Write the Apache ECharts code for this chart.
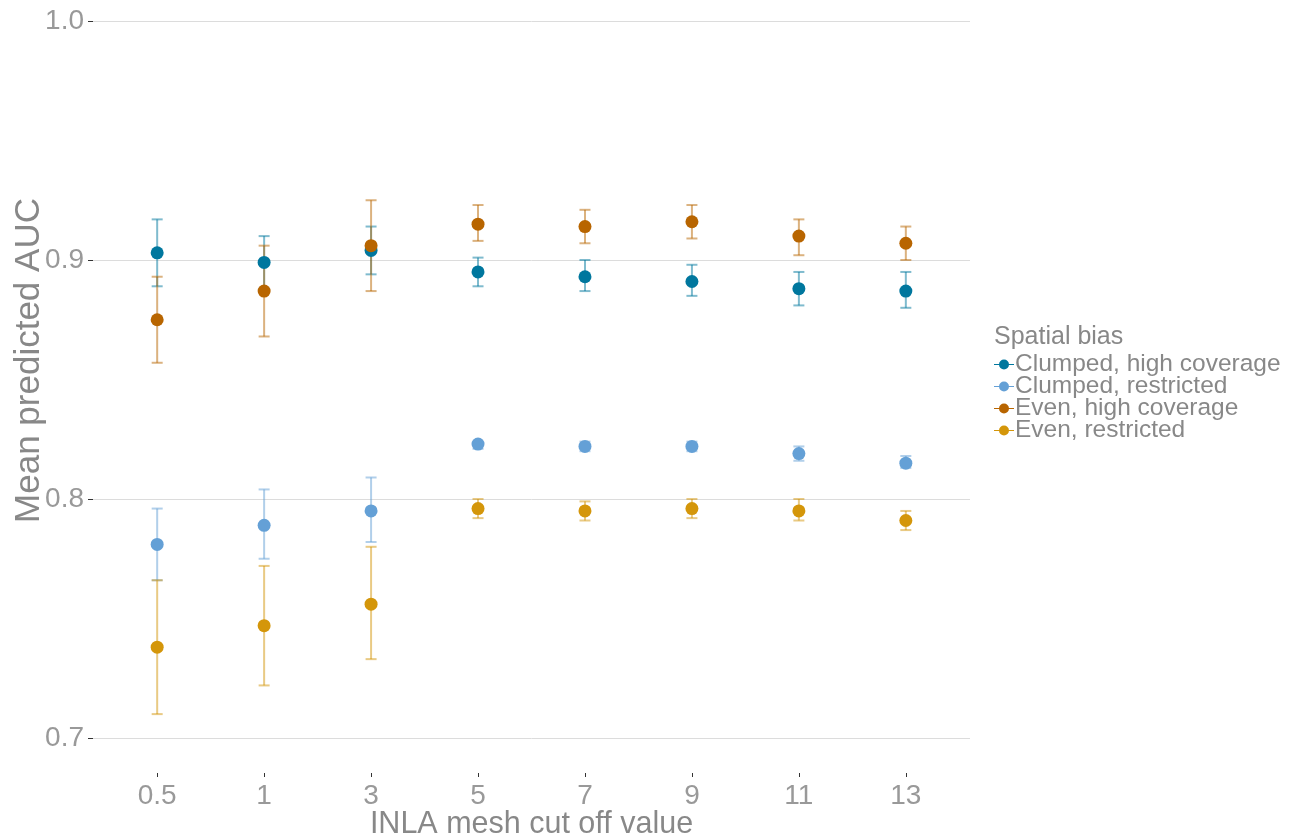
<!DOCTYPE html>
<html>
<head>
<meta charset="utf-8">
<script src="https://cdn.jsdelivr.net/npm/echarts@6/dist/echarts.min.js"></script>
<style>html,body{margin:0;padding:0;background:#fff;}#chart{width:1297px;height:837px;}</style>
</head>
<body>
<div id="chart"></div>
<script>
const categories = ['0.5', '1', '3', '5', '7', '9', '11', '13'];
const yTicks = [0.7, 0.8, 0.9, 1.0];
const seriesNames = ['Clumped, high coverage', 'Clumped, restricted', 'Even, high coverage', 'Even, restricted'];
const seriesColors = ['#00779E', '#64A0D6', '#B86500', '#D4960A'];

const clumpedHighMean = [0.903, 0.899, 0.904, 0.895, 0.893, 0.891, 0.888, 0.887];
const clumpedHighLow  = [0.889, 0.888, 0.894, 0.889, 0.887, 0.885, 0.881, 0.880];
const clumpedHighHigh = [0.917, 0.910, 0.914, 0.901, 0.900, 0.898, 0.895, 0.895];

const clumpedRestMean = [0.781, 0.789, 0.795, 0.823, 0.822, 0.822, 0.819, 0.815];
const clumpedRestLow  = [0.766, 0.775, 0.782, 0.821, 0.820, 0.820, 0.816, 0.813];
const clumpedRestHigh = [0.796, 0.804, 0.809, 0.824, 0.824, 0.824, 0.822, 0.818];

const evenHighMean = [0.875, 0.887, 0.906, 0.915, 0.914, 0.916, 0.910, 0.907];
const evenHighLow  = [0.857, 0.868, 0.887, 0.908, 0.907, 0.909, 0.902, 0.900];
const evenHighHigh = [0.893, 0.906, 0.925, 0.923, 0.921, 0.923, 0.917, 0.914];

const evenRestMean = [0.738, 0.747, 0.756, 0.796, 0.795, 0.796, 0.795, 0.791];
const evenRestLow  = [0.710, 0.722, 0.733, 0.792, 0.791, 0.792, 0.791, 0.787];
const evenRestHigh = [0.766, 0.772, 0.780, 0.800, 0.799, 0.800, 0.800, 0.795];

const means = [clumpedHighMean, clumpedRestMean, evenHighMean, evenRestMean];
const lows = [clumpedHighLow, clumpedRestLow, evenHighLow, evenRestLow];
const highs = [clumpedHighHigh, clumpedRestHigh, evenHighHigh, evenRestHigh];

function hexA(hex, a) {
  const n = parseInt(hex.slice(1), 16);
  return 'rgba(' + ((n >> 16) & 255) + ',' + ((n >> 8) & 255) + ',' + (n & 255) + ',' + a + ')';
}

const FONT = '"Liberation Sans", Arial, sans-serif';
const series = [];
seriesNames.forEach(function (name, s) {
  const col = seriesColors[s];
  series.push({
    name: name,
    type: 'custom',
    z: 2,
    silent: true,
    data: categories.map(function (c, i) { return [i, lows[s][i], highs[s][i]]; }),
    renderItem: function (params, api) {
      const x = api.value(0);
      const lo = api.coord([x, api.value(1)]);
      const hi = api.coord([x, api.value(2)]);
      const hw = 5.5;
      const style = { stroke: hexA(col, 0.5), lineWidth: 2, fill: null };
      return {
        type: 'group',
        children: [
          { type: 'line', shape: { x1: lo[0], y1: lo[1], x2: hi[0], y2: hi[1] }, style: style },
          { type: 'line', shape: { x1: lo[0] - hw, y1: lo[1], x2: lo[0] + hw, y2: lo[1] }, style: style },
          { type: 'line', shape: { x1: hi[0] - hw, y1: hi[1], x2: hi[0] + hw, y2: hi[1] }, style: style }
        ]
      };
    }
  });
});
seriesNames.forEach(function (name, s) {
  series.push({
    name: name,
    type: 'scatter',
    z: 3,
    symbol: 'circle',
    symbolSize: 13,
    itemStyle: { color: seriesColors[s], opacity: 1 },
    data: categories.map(function (c, i) { return [i, means[s][i]]; })
  });
});

const chart = echarts.init(document.getElementById('chart'), null, { renderer: 'canvas' });
chart.setOption({
  animation: false,
  backgroundColor: '#ffffff',
  color: seriesColors,
  grid: { left: 93, right: 327, top: 21, bottom: 99, containLabel: false, outerBoundsMode: 'none' },
  title: {
    text: 'Spatial bias',
    left: 989, top: 320,
    textStyle: { fontFamily: FONT, fontSize: 25, fontWeight: 'normal', color: '#888888' }
  },
  legend: {
    orient: 'vertical',
    left: 989, top: 347,
    itemGap: -3,
    itemWidth: 20, itemHeight: 11,
    icon: 'path://M0,4.9L20,4.9L20,6.1L0,6.1Z M10,0.5A5,5 0 1 1 9.99,0.5Z',
    data: seriesNames.slice(),
    textStyle: { fontFamily: FONT, fontSize: 24.5, color: '#888888', lineHeight: 22, padding: [0, 0, 0, -4] }
  },
  xAxis: {
    type: 'value',
    min: -0.6, max: 7.6,
    offset: 35,
    name: 'INLA mesh cut off value',
    nameLocation: 'middle',
    nameGap: 36,
    nameMoveOverlap: false,
    nameTextStyle: { fontFamily: FONT, fontSize: 30.5, color: '#888888', verticalAlign: 'top' },
    axisLine: { show: false, onZero: false },
    axisTick: { show: true, customValues: categories.map(function (c, i) { return i; }), length: 4, lineStyle: { color: '#333333', width: 1 } },
    axisLabel: {
      customValues: categories.map(function (c, i) { return i; }),
      formatter: function (v) { return categories[Math.round(v)]; },
      fontFamily: FONT, fontSize: 28, color: '#999999', margin: 9
    },
    splitLine: { show: false }
  },
  yAxis: {
    type: 'value',
    min: 0.7, max: 1.0, interval: 0.1,
    name: 'Mean predicted AUC',
    nameLocation: 'middle',
    nameGap: 46,
    nameMoveOverlap: false,
    nameTextStyle: { fontFamily: FONT, fontSize: 35, color: '#888888', padding: [0, 0, 0, 38] },
    axisLine: { show: false, onZero: false },
    axisTick: { show: true, length: 5, lineStyle: { color: '#333333', width: 1 } },
    axisLabel: {
      formatter: function (v) { return v.toFixed(1); },
      fontFamily: FONT, fontSize: 28, color: '#999999', margin: 9
    },
    splitLine: { show: true, lineStyle: { color: '#dcdcdc', width: 1 } }
  },
  series: series
});
</script>
</body>
</html>
